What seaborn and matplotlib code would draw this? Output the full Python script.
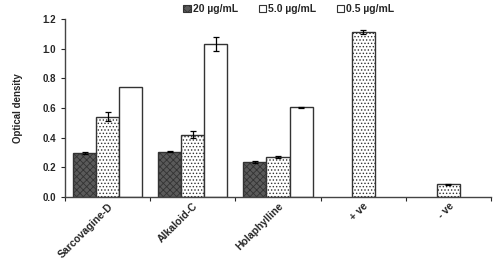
import numpy as np
import pandas as pd
import seaborn as sns
import matplotlib.pyplot as plt

compounds = ['Sarcovagine-D', 'Alkaloid-C', 'Holaphylline', '+ ve', '- ve']
series = ['20 µg/mL', '5.0 µg/mL', '0.5 µg/mL']

od_20 = [0.295, 0.305, 0.235, np.nan, np.nan]
od_5 = [0.54, 0.42, 0.27, 1.11, 0.085]
od_05 = [0.74, 1.03, 0.605, np.nan, np.nan]

err_20 = [0.006, 0.004, 0.005, 0, 0]
err_5 = [0.03, 0.022, 0.004, 0.015, 0.003]
err_05 = [0.0, 0.045, 0.004, 0, 0]

sns.set_style("white")
plt.rcParams['font.family'] = ['Liberation Sans', 'DejaVu Sans']
plt.rcParams['font.weight'] = 'bold'
plt.rcParams['hatch.linewidth'] = 0.6

rows = []
for vals, name in [(od_20, series[0]), (od_5, series[1]), (od_05, series[2])]:
    for c, v in zip(compounds, vals):
        rows.append({'compound': c, 'dose': name, 'od': v})
df = pd.DataFrame(rows)

fig = plt.figure(figsize=(5, 2.59), dpi=100)
ax = fig.add_axes([0.13, 0.239, 0.852, 0.688])

sns.barplot(data=df, x='compound', y='od', hue='dose', order=compounds,
            hue_order=series, errorbar=None, width=0.81, ax=ax,
            palette=['#555555', 'white', 'white'], edgecolor='#333333',
            linewidth=1.0, saturation=1)

styles = [('#5a5a5a', 'xxxxx'), ('white', '.....'), ('white', '')]
errs = [err_20, err_5, err_05]
for cont, (fc, hatch), err in zip(ax.containers, styles, errs):
    for bar, e in zip(cont, err):
        bar.set_facecolor(fc)
        bar.set_hatch(hatch)
        h = bar.get_height()
        if np.isnan(h) or h == 0:
            continue
        if e > 0:
            ax.errorbar(bar.get_x() + bar.get_width() / 2, h, yerr=e,
                        color='black', capsize=2.5, elinewidth=0.9,
                        capthick=0.9, fmt='none')

ax.set_ylim(0, 1.2)
ax.set_xlim(-0.5, 4.5)
ax.set_yticks(np.arange(0, 1.21, 0.2))
ax.set_yticklabels([f'{v:.1f}' for v in np.arange(0, 1.21, 0.2)])
ax.set_xlabel('')
ax.set_ylabel('Optical density', fontsize=7, fontweight='bold', labelpad=14)
ax.tick_params(axis='y', labelsize=7, length=3, width=0.8, direction='out', left=True)
ax.tick_params(axis='x', which='major', labelsize=7.5, length=0, pad=3)
ax.set_xticks(np.arange(-0.5, 4.6, 1), minor=True)
ax.tick_params(axis='x', which='minor', length=3, width=0.8, direction='out', bottom=True)
plt.setp(ax.get_xticklabels(), rotation=45, ha='right', rotation_mode='anchor')
for s in ['top', 'right']:
    ax.spines[s].set_visible(False)
for s in ['left', 'bottom']:
    ax.spines[s].set_color('#444444')
    ax.spines[s].set_linewidth(1.0)

ax.legend_.remove()
handles = [plt.Rectangle((0, 0), 1, 1, facecolor=fc, hatch=h, edgecolor='#333333', linewidth=0.8)
           for fc, h in [('#5a5a5a', 'xxxx'), ('white', ''), ('white', '')]]
fig.legend(handles, series, loc='upper center', bbox_to_anchor=(0.578, 1.02), ncol=3,
           frameon=False, handlelength=0.7, handleheight=0.7,
           handletextpad=0.2, columnspacing=2.0, prop={'weight': 'bold', 'size': 7.5})

fig.savefig('out.png', dpi=100)
